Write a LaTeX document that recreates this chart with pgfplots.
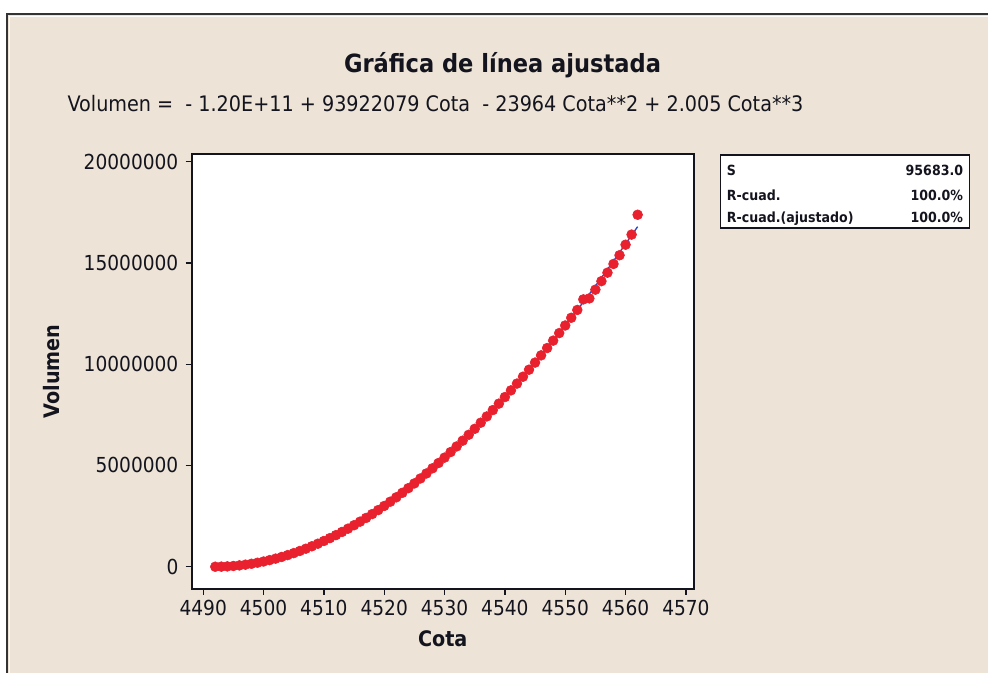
\documentclass[border=0pt]{standalone}
\usepackage{fontspec}
\setmainfont{DejaVu Sans Condensed}
\usepackage{pgfplots}
\pgfplotsset{compat=1.18}
\usepackage{pgfplotstable}

\definecolor{panel}{RGB}{237,228,215}
\definecolor{ptred}{RGB}{233,33,46}
\definecolor{fitblue}{RGB}{40,70,200}
\definecolor{ink}{RGB}{20,20,30}

% Observed elevation (Cota) vs stored volume
\pgfplotstableread{
cota volumen
4492 0
4493 4000
4494 16300
4495 36600
4496 64900
4497 101100
4498 145300
4499 197300
4500 257000
4501 324500
4502 399700
4503 482500
4504 572800
4505 670700
4506 776000
4507 888600
4508 1008600
4509 1135900
4510 1270400
4511 1412100
4512 1560800
4513 1716600
4514 1879400
4515 2049100
4516 2225700
4517 2409100
4518 2599200
4519 2796100
4520 2999600
4521 3209700
4522 3426300
4523 3649400
4524 3878900
4525 4114800
4526 4357000
4527 4605400
4528 4860000
4529 5120700
4530 5387600
4531 5660400
4532 5939200
4533 6223900
4534 6514500
4535 6810800
4536 7112900
4537 7420600
4538 7734000
4539 8052900
4540 8377300
4541 8707200
4542 9042500
4543 9383100
4544 9729000
4545 10080100
4546 10436400
4547 10797700
4548 11164200
4549 11535600
4550 11911900
4551 12293200
4552 12679200
4553 13200000
4554 13250000
4555 13680000
4556 14100000
4557 14520000
4558 14950000
4559 15380000
4560 15900000
4561 16400000
4562 17380000
}\obs

% Fitted cubic regression line
\pgfplotstableread{
cota volumen
4492 0
4497 101100
4502 399700
4507 888600
4512 1560800
4517 2409100
4522 3426300
4527 4605400
4532 5939200
4537 7420600
4542 9042500
4547 10797700
4552 12679200
4557 14679800
4562 16792300
}\fit

\begin{document}
\begin{tikzpicture}
\path[use as bounding box] (0,0) rectangle (741pt,504.75pt);
\fill[white] (0,0) rectangle (741pt,504.75pt);
\fill[panel] (5.6pt,0) rectangle (741pt,493.9pt);
\draw[line width=1.5pt, black!80] (5.6pt,0) -- (5.6pt,493.9pt) -- (741pt,493.9pt);
\draw[line width=0.6pt, white!90!panel] (7.2pt,0) -- (7.2pt,492.3pt) -- (741pt,492.3pt);

\node[anchor=base, text=ink, font=\bfseries\fontsize{18.8}{22}\selectfont]
  at (376.9pt,450pt) {Gráfica de línea ajustada};
\node[anchor=base west, text=ink, font=\fontsize{16}{19}\selectfont]
  at (47.25pt,420.75pt) {Volumen =\ \ - 1.20E+11 + 93922079 Cota\ \ - 23964 Cota**2 + 2.005 Cota**3};

\begin{axis}[
  at={(143.8pt,63pt)}, anchor=south west,
  scale only axis, width=376.5pt, height=326.25pt,
  xmin=4488.1, xmax=4571.3, ymin=-1100000, ymax=20380000,
  axis background/.style={fill=white},
  axis line style={line width=1.2pt, ink},
  xtick={4490,4500,4510,4520,4530,4540,4550,4560,4570},
  xticklabels={4490,4500,4510,4520,4530,4540,4550,4560,4570},
  ytick={0,5000000,10000000,15000000,20000000},
  yticklabels={0,5000000,10000000,15000000,20000000},
  scaled ticks=false,
  tick align=outside, xtick pos=bottom, ytick pos=left,
  major tick length=4.5pt,
  tick style={line width=1pt, ink},
  tick label style={font=\fontsize{15.5}{18}\selectfont, text=ink},
  yticklabel style={xshift=-2pt},
  xlabel={Cota}, ylabel={Volumen},
  label style={font=\bfseries\fontsize{16}{19}\selectfont, text=ink},
  xlabel style={yshift=-5pt},
  ylabel style={yshift=11pt},
]
\addplot[fitblue, line width=1pt, smooth] table[x=cota, y=volumen]{\fit};
\addplot[only marks, mark=*, mark size=3.7pt, mark options={fill=ptred, draw=ptred}]
  table[x=cota, y=volumen]{\obs};
\end{axis}

% Model summary box
\draw[line width=1.2pt, ink, fill=white] (540.5pt,333.75pt) rectangle (727pt,388.5pt);
\begin{scope}[every node/.style={font=\bfseries\fontsize{10.5}{12}\selectfont, text=ink, inner sep=0pt}]
\node[anchor=mid west] at (545pt,376pt) {S};
\node[anchor=mid west] at (545pt,357.2pt) {R-cuad.};
\node[anchor=mid west] at (545pt,340.3pt) {R-cuad.(ajustado)};
\node[anchor=mid east] at (722.5pt,376pt) {95683.0};
\node[anchor=mid east] at (722.5pt,357.2pt) {100.0\%};
\node[anchor=mid east] at (722.5pt,340.3pt) {100.0\%};
\end{scope}
\end{tikzpicture}
\end{document}
